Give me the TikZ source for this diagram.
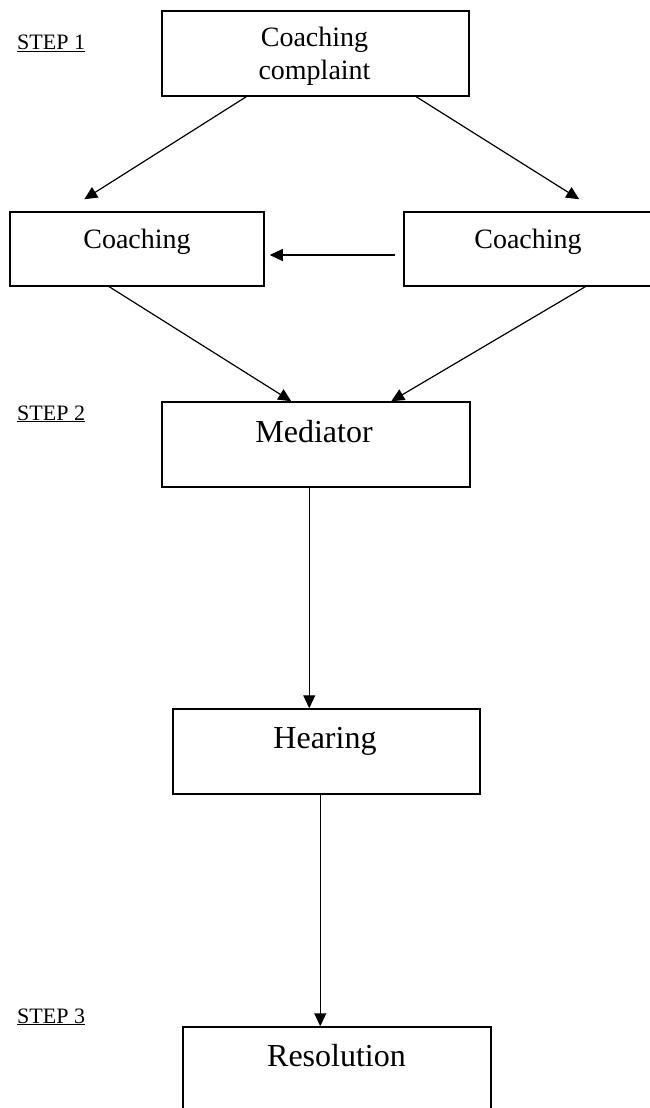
\documentclass[tikz,border=0pt]{standalone}
\usepackage{fontspec}
\setmainfont{Liberation Serif}
\usetikzlibrary{arrows.meta,calc}
\begin{document}
\begin{tikzpicture}[x=1pt,y=-1pt,
  box/.style={draw, line width=1.5pt, inner sep=0pt, fill=white},
  arr/.style={line width=1.2pt, -{Triangle[length=13pt,width=12pt]}},
  bigtxt/.style={font=\fontsize{32}{38}\selectfont, anchor=base, inner sep=0pt},
  midtxt/.style={font=\fontsize{28}{33}\selectfont, anchor=base, inner sep=0pt, align=center},
  steptxt/.style={font=\fontsize{22}{26}\selectfont, anchor=base west, inner sep=0pt}]
\useasboundingbox (0,0) rectangle (649,1108);
% boxes
\node[box, minimum width=307pt, minimum height=85pt] (cc) at (315.5,53.5) {};
\node[box, minimum width=254pt, minimum height=74pt] (c1) at (137,249) {};
\node[box, minimum width=248pt, minimum height=74pt] (c2) at (528,249) {};
\node[box, minimum width=308pt, minimum height=85pt] (med) at (316,444.5) {};
\node[box, minimum width=307pt, minimum height=85pt] (hear) at (326.5,751.5) {};
\node[box, minimum width=308pt, minimum height=85pt] (res) at (337,1069.5) {};
% texts
\node[midtxt] (ccT) at (314.5,80) {Coaching\\complaint};
\node[midtxt] (c1T) at (137,248) {Coaching};
\node[midtxt] (c2T) at (528,248) {Coaching};
\node[bigtxt] (medT) at (314,442) {Mediator};
\node[bigtxt] (hearT) at (325,748) {Hearing};
\node[bigtxt] (resT) at (336.5,1066) {Resolution};
\node[steptxt] (s1) at (17,50) {\underline{STEP 1}};
\node[steptxt] (s2) at (17,420) {\underline{STEP 2}};
\node[steptxt] (s3) at (17,1023) {\underline{STEP 3}};
% connectors
\draw[arr] ($(cc.south west)+(85,0)$) -- ($(c1.north west)+(75,-12)$);
\draw[arr] ($(cc.south west)+(255,0)$) -- ($(c2.north west)+(176,-12)$);
\draw[arr] ($(c2.west)+(-8,6)$) -- ($(c1.east)+(5,6)$);
\draw[arr] ($(c1.south west)+(100,0)$) -- ($(med.north west)+(130,0)$);
\draw[arr] ($(c2.south west)+(182,0)$) -- ($(med.north west)+(230,0)$);
\draw[arr] ($(med.south west)+(148,0)$) -- ($(hear.north west)+(137,0)$);
\draw[arr] ($(hear.south west)+(148,0)$) -- ($(res.north west)+(138,0)$);
\end{tikzpicture}
\end{document}
